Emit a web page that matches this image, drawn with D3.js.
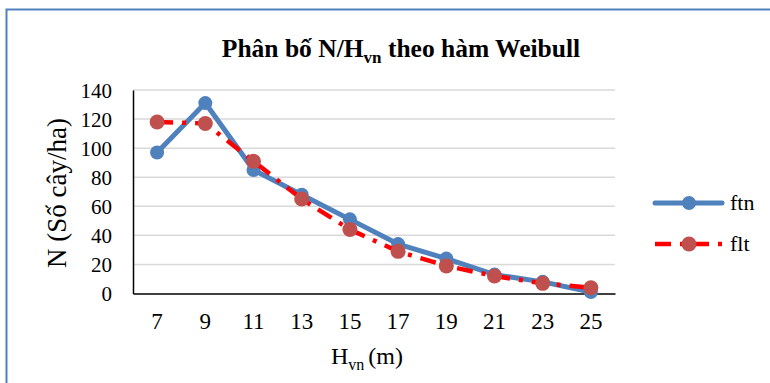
<!DOCTYPE html>
<html>
<head>
<meta charset="utf-8">
<script src="https://cdn.jsdelivr.net/npm/d3@7/dist/d3.min.js"></script>
<style>
  html, body { margin: 0; padding: 0; background: #fff; }
  svg { display: block; }
</style>
</head>
<body>
<svg id="chart" width="770" height="383"></svg>
<script>
// Chiều cao vút ngọn (m) và số cây/ha
const heights = ["7", "9", "11", "13", "15", "17", "19", "21", "23", "25"];
const ftn = [97, 131, 85, 68, 51, 34, 24, 13, 8, 1];
const flt = [118, 117, 91, 65, 44, 29, 19, 12, 7, 4];
const yTicks = [0, 20, 40, 60, 80, 100, 120, 140];

const SERIF = "'Liberation Serif', 'Times New Roman', serif";

const svg = d3.select("#chart")
  .attr("font-family", SERIF);

// khung ngoài
svg.append("path")
  .attr("d", "M6.5,383 L6.5,9.5 L770,9.5")
  .attr("fill", "none")
  .attr("stroke", "#4F81BD")
  .attr("stroke-width", 2);

const plot = { left: 133, right: 615, top: 90, bottom: 293.5 };

const x = d3.scaleBand().domain(heights).range([plot.left, plot.right]);
const y = d3.scaleLinear().domain([0, 140]).range([plot.bottom, plot.top]);

// lưới ngang
svg.append("g")
  .selectAll("line")
  .data(yTicks.filter(d => d > 0))
  .join("line")
  .attr("x1", plot.left).attr("x2", plot.right)
  .attr("y1", d => y(d)).attr("y2", d => y(d))
  .attr("stroke", "#D9D9D9")
  .attr("stroke-width", 1.5);

// trục y
const yAxis = svg.append("g")
  .attr("transform", `translate(${plot.left},0)`)
  .call(d3.axisLeft(y).tickValues(yTicks).tickSize(0).tickPadding(21))
  .attr("font-family", SERIF)
  .attr("font-size", 21);
yAxis.select(".domain").attr("stroke", "#000").attr("stroke-width", 1.5);
yAxis.selectAll("text").attr("fill", "#000").attr("dy", "0.34em");

// trục x
const xAxis = svg.append("g")
  .attr("transform", `translate(0,${plot.bottom})`)
  .call(d3.axisBottom(x).tickSize(0).tickPadding(19))
  .attr("font-family", SERIF)
  .attr("font-size", 23);
xAxis.select(".domain").attr("stroke", "#000").attr("stroke-width", 1.5);
xAxis.selectAll("text").attr("fill", "#000");

const cx = d => x(d) + x.bandwidth() / 2;

// đường ftn
svg.append("path")
  .datum(ftn)
  .attr("fill", "none")
  .attr("stroke", "#4F81BD")
  .attr("stroke-width", 5)
  .attr("stroke-linejoin", "round")
  .attr("d", d3.line().x((d, i) => cx(heights[i])).y(d => y(d)));

svg.append("g")
  .selectAll("circle")
  .data(ftn)
  .join("circle")
  .attr("cx", (d, i) => cx(heights[i]))
  .attr("cy", d => y(d))
  .attr("r", 7)
  .attr("fill", "#4F81BD");

// đường flt
svg.append("path")
  .datum(flt)
  .attr("fill", "none")
  .attr("stroke", "#FF0000")
  .attr("stroke-width", 4.5)
  .attr("stroke-dasharray", "16,9,4,9")
  .attr("d", d3.line().x((d, i) => cx(heights[i])).y(d => y(d)));

svg.append("g")
  .selectAll("circle")
  .data(flt)
  .join("circle")
  .attr("cx", (d, i) => cx(heights[i]))
  .attr("cy", d => y(d))
  .attr("r", 7.5)
  .attr("fill", "#C0504D");

// tiêu đề
const title = svg.append("text")
  .attr("x", 401).attr("y", 57)
  .attr("text-anchor", "middle")
  .attr("font-family", SERIF)
  .attr("font-size", 25.5)
  .attr("font-weight", "bold");
title.append("tspan").text("Phân bố N/H");
title.append("tspan").text("vn").attr("dy", 6).attr("font-size", 17);
title.append("tspan").text(" theo hàm Weibull").attr("dy", -6);

// tên trục y
svg.append("text")
  .attr("transform", "translate(66,193) rotate(-90)")
  .attr("text-anchor", "middle")
  .attr("font-family", SERIF)
  .attr("font-size", 27)
  .text("N (Số cây/ha)");

// tên trục x
const xt = svg.append("text")
  .attr("x", 367).attr("y", 364)
  .attr("text-anchor", "middle")
  .attr("font-family", SERIF)
  .attr("font-size", 24);
xt.append("tspan").text("H");
xt.append("tspan").text("vn").attr("dy", 6).attr("font-size", 16);
xt.append("tspan").text(" (m)").attr("dy", -6).attr("dx", -2);

// chú giải
const legend = svg.append("g").attr("font-family", SERIF).attr("font-size", 22);
legend.append("line")
  .attr("x1", 655).attr("x2", 722).attr("y1", 203).attr("y2", 203)
  .attr("stroke", "#4F81BD").attr("stroke-width", 5).attr("stroke-linecap", "round");
legend.append("circle").attr("cx", 689).attr("cy", 203).attr("r", 7).attr("fill", "#4F81BD");
legend.append("text").attr("x", 730).attr("y", 210).text("ftn");

legend.append("line")
  .attr("x1", 655).attr("x2", 722).attr("y1", 244).attr("y2", 244)
  .attr("stroke", "#FF0000").attr("stroke-width", 4.5)
  .attr("stroke-dasharray", "16,9,4,9")
  .attr("stroke-linecap", "butt");
legend.append("circle").attr("cx", 689).attr("cy", 244).attr("r", 7.5).attr("fill", "#C0504D");
legend.append("text").attr("x", 730).attr("y", 251).text("flt");
</script>
</body>
</html>
